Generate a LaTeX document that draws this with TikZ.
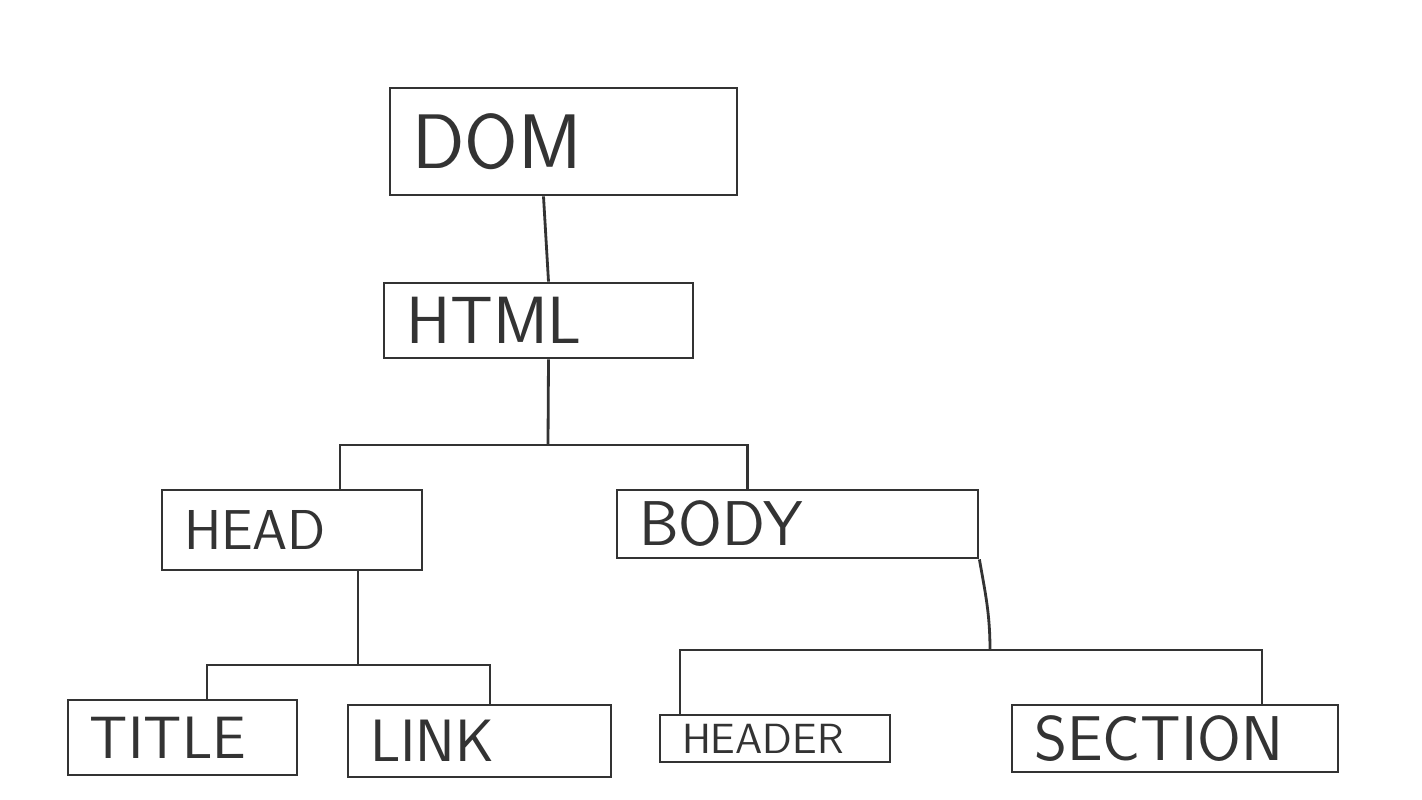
\documentclass[tikz,border=0pt]{standalone}
\usepackage{tikz}

\begin{document}
\begin{tikzpicture}[thick, draw=black!80, color=black!80,
		tag node/.style={draw,align=left,font=\sffamily,inner xsep=0.22cm,inner ysep=0pt}]
		\useasboundingbox (0,0) rectangle (14.22,8);
		
		\node[tag node,text width=3.03cm,minimum height=1.07cm,font=\sffamily\fontsize{22}{26}\selectfont] (1) at (5.635,6.585) {DOM};
		\node[tag node,text width=2.65cm,minimum height=0.75cm,font=\sffamily\fontsize{19}{23}\selectfont] (2) at (5.385,4.795) {HTML};
		\node[tag node,text width=2.16cm,minimum height=0.80cm,font=\sffamily\fontsize{16}{19}\selectfont] (3) at (2.92,2.70) {HEAD};
		\node[tag node,text width=3.17cm,minimum height=0.68cm,font=\sffamily\fontsize{18}{22}\selectfont] (4) at (7.975,2.76) {BODY};
		\node[tag node,text width=1.85cm,minimum height=0.75cm,font=\sffamily\fontsize{17}{20}\selectfont] (5) at (1.825,0.625) {TITLE};
		\node[tag node,text width=2.19cm,minimum height=0.72cm,font=\sffamily\fontsize{17}{20}\selectfont] (6) at (4.795,0.59) {LINK};
		\node[tag node,text width=1.86cm,minimum height=0.47cm,font=\sffamily\fontsize{12}{14}\selectfont] (7) at (7.75,0.615) {HEADER};
		\node[tag node,text width=2.82cm,minimum height=0.67cm,font=\sffamily\fontsize{18}{22}\selectfont] (8) at (11.75,0.615) {SECTION};
		
		% branch points
		\coordinate (a) at (5.48,3.55);
		\coordinate (b) at (3.58,1.35);
		\coordinate (c) at (9.90,1.50);
		
		\draw ([xshift=-0.2cm]1.south) -- ([xshift=0.1cm]2.north);
		\draw ([xshift=0.1cm]2.south) -- (a);
		\draw ([xshift=0.48cm]3.north) |- (a) -| ([xshift=-0.5cm]4.north);
		\draw ([xshift=0.66cm]3.south) -- (b);
		\draw ([xshift=0.245cm]5.north) |- (b) -| ([xshift=0.105cm]6.north);
		\draw (4.south east) to[out=-80,in=90] (c);
		\draw ([xshift=-0.95cm]7.north) |- (c) -| ([xshift=0.87cm]8.north);
\end{tikzpicture}
\end{document}
